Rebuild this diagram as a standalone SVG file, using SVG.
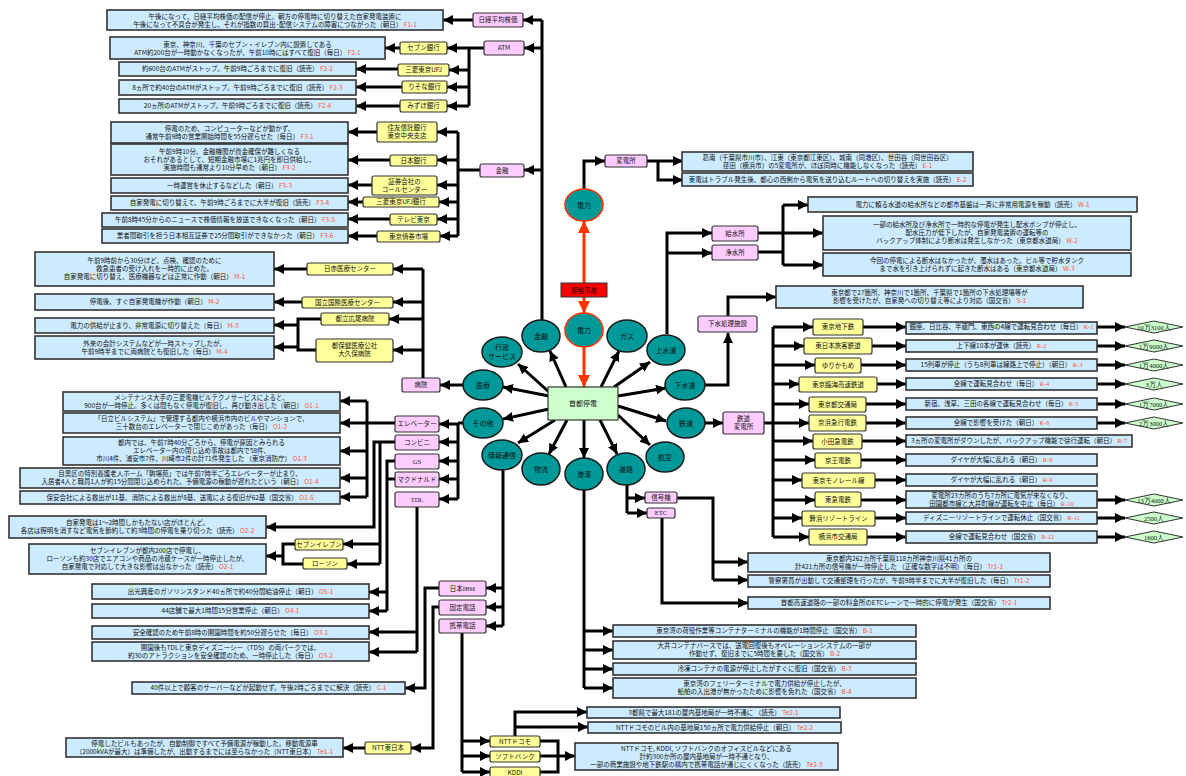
<svg xmlns="http://www.w3.org/2000/svg" width="1186" height="776" viewBox="0 0 1186 776">
<style>
.b{fill:#CCEBFF;stroke:#333;stroke-width:1.6}
.p{fill:#FFCCFF;stroke:#333;stroke-width:1.2}
.y{fill:#FFFF99;stroke:#333;stroke-width:1.2}
.e{fill:#009999;stroke:#1a1a1a;stroke-width:1.5}
.er{fill:#009999;stroke:#FF3300;stroke-width:1.6}
.d{fill:#CCFFCC;stroke:#333;stroke-width:1}
text{font-family:"Noto Sans CJK JP","Noto Sans",sans-serif;font-size:6.5px;fill:#111;text-anchor:middle}
.et{fill:#111;font-size:7px}
.r{fill:#FF5533}
.s{font-family:"Liberation Serif",serif}
.c{stroke:#000;stroke-width:3;fill:none;marker-end:url(#ah)}
.n{stroke:#000;stroke-width:3;fill:none}
.rc{stroke:#FF3300;stroke-width:3;fill:none;marker-end:url(#ahr)}
</style>
<defs>
<marker id="ah" markerUnits="userSpaceOnUse" markerWidth="11" markerHeight="11" refX="10" refY="5" orient="auto"><path d="M0,0L10,5L0,10z" fill="#000"/></marker>
<marker id="ahr" markerUnits="userSpaceOnUse" markerWidth="13" markerHeight="13" refX="12" refY="6" orient="auto"><path d="M0,0L12,6L0,12z" fill="#FF3300"/></marker>
</defs>
<rect width="1186" height="776" fill="#fff"/>
<g id="connectors">
<path class="n" d="M542,321V20"/>
<path class="c" d="M542,20H523"/><path class="c" d="M542,48H524"/><path class="c" d="M542,170H524"/>
<path class="c" d="M473,20H443"/>
<path class="c" d="M484,48H447"/><path class="n" d="M469,48V106"/>
<path class="c" d="M469,70H449"/><path class="c" d="M469,87H447"/><path class="c" d="M469,106H447"/>
<path class="c" d="M400,48H385"/><path class="c" d="M398,69H356"/><path class="c" d="M402,87H356"/><path class="c" d="M400,106H356"/>
<path class="n" d="M480,170H458"/><path class="n" d="M458,132V236"/>
<path class="c" d="M458,132H437"/><path class="c" d="M458,160H437"/><path class="c" d="M458,185H437"/><path class="c" d="M458,202H439"/><path class="c" d="M458,219H437"/><path class="c" d="M458,236H440"/>
<path class="c" d="M377,132H348"/><path class="c" d="M390,160H348"/><path class="c" d="M372,185H348"/><path class="c" d="M363,202H348"/><path class="c" d="M390,219H348"/><path class="c" d="M377,236H348"/>
<path class="c" d="M463,385H440"/><path class="n" d="M423,378V269"/>
<path class="c" d="M423,269H393"/><path class="c" d="M423,302H393"/><path class="c" d="M423,319H389"/><path class="c" d="M423,350H393"/>
<path class="c" d="M307,269H274"/><path class="c" d="M302,302H274"/>
<path class="n" d="M321,319H298V350H316"/><path class="c" d="M298,325H274"/><path class="c" d="M298,347H274"/>
<path class="n" d="M464,423H458"/><path class="n" d="M458,423V499"/>
<path class="c" d="M458,424H439"/><path class="c" d="M458,442H439"/><path class="c" d="M458,461H439"/><path class="c" d="M458,479H439"/><path class="c" d="M458,499H439"/>
<path class="c" d="M395,423H340"/><path class="n" d="M367,401V497"/>
<path class="c" d="M367,401H340"/><path class="c" d="M367,451H340"/><path class="c" d="M367,478H340"/><path class="c" d="M367,497H340"/>
<path class="c" d="M395,442H374V527H266"/><path class="n" d="M380,442V564"/><path class="c" d="M380,544H343"/><path class="c" d="M380,564H347"/>
<path class="n" d="M295,544H283V564H303"/><path class="c" d="M283,556H266"/>
<path class="n" d="M395,461H387V611"/><path class="n" d="M395,479H387"/><path class="c" d="M387,592H369"/><path class="c" d="M387,611H369"/>
<path class="n" d="M417,507V652"/><path class="c" d="M417,632H369"/><path class="c" d="M417,652H369"/>
<path class="n" d="M503,470V626"/><path class="c" d="M503,588H486"/><path class="c" d="M503,607H486"/><path class="c" d="M503,626H486"/>
<path class="c" d="M439,588H425V688H405"/><path class="c" d="M439,607H433V748H411"/><path class="c" d="M365,748H343"/>
<path class="n" d="M462,633V772"/><path class="c" d="M462,741H490"/><path class="c" d="M462,756H490"/><path class="c" d="M462,772H490"/>
<path class="c" d="M515,736V712H587"/><path class="c" d="M515,727H588"/>
<path class="n" d="M540,741H558V772H540"/><path class="n" d="M540,756H558"/><path class="c" d="M558,756H575"/>
<path class="n" d="M584,489V688"/><path class="c" d="M584,631H613"/><path class="c" d="M584,650H613"/><path class="c" d="M584,669H613"/><path class="c" d="M584,688H613"/>
<path class="n" d="M627,485V513"/><path class="c" d="M627,498H645"/><path class="c" d="M627,513H647"/>
<path class="n" d="M677,498H713V580"/><path class="c" d="M713,562H748"/><path class="c" d="M713,580H748"/>
<path class="c" d="M662,518V603H748"/>
<path class="c" d="M667,334V233H712"/><path class="c" d="M667,253H712"/>
<path class="c" d="M758,233H823"/><path class="n" d="M758,252H783"/><path class="n" d="M783,205V265"/><path class="c" d="M783,205H808"/><path class="c" d="M783,265H823"/>
<path class="c" d="M704,385H728V333"/><path class="c" d="M728,316V297H776"/>
<path class="c" d="M584,190V161H605"/><path class="c" d="M647,161H683"/><path class="c" d="M658,161V180H683"/>
<path class="c" d="M705,423H723"/><path class="n" d="M764,423H773"/><path class="n" d="M773,327V537"/>
<path class="c" d="M773,327H813"/><path class="c" d="M773,346H804"/><path class="c" d="M773,365H815"/><path class="c" d="M773,384H799"/><path class="c" d="M773,404H809"/><path class="c" d="M773,423H809"/><path class="c" d="M773,441H813"/><path class="c" d="M773,460H815"/><path class="c" d="M773,480H802"/><path class="c" d="M773,500H815"/><path class="c" d="M773,518H802"/><path class="c" d="M773,537H809"/>
<path class="c" d="M863,327H906"/><path class="c" d="M872,346H906"/><path class="c" d="M861,365H906"/><path class="c" d="M877,384H906"/><path class="c" d="M866,404H906"/><path class="c" d="M866,423H906"/><path class="c" d="M862,441H906"/><path class="c" d="M861,460H906"/><path class="c" d="M875,480H906"/><path class="c" d="M861,500H906"/><path class="c" d="M875,518H906"/><path class="c" d="M867,537H906"/>
<path class="c" d="M1097,327H1125"/><path class="c" d="M1097,346H1125"/><path class="c" d="M1097,365H1125"/><path class="c" d="M1097,384H1125"/><path class="c" d="M1097,404H1125"/><path class="c" d="M1097,423H1125"/><path class="c" d="M1097,500H1125"/><path class="c" d="M1097,518H1125"/><path class="c" d="M1097,537H1125"/>
<path class="c" d="M566,387L550,351"/><path class="c" d="M549,392L518,364"/><path class="c" d="M549,396L503,387"/><path class="c" d="M549,409L503,419"/><path class="c" d="M555,420L518,443"/><path class="c" d="M567,420L549,454"/><path class="c" d="M584,420V458"/><path class="c" d="M600,420L617,454"/><path class="c" d="M618,415L650,445"/><path class="c" d="M618,406L666,421"/><path class="c" d="M618,396L666,388"/><path class="c" d="M614,387L650,362"/><path class="c" d="M601,387L619,351"/>
<path class="rc" d="M584,347V387"/><path class="rc" d="M584,297V313"/><path class="rc" d="M584,283V221"/>
</g>
<g id="shuto"><rect x="548" y="387" width="70" height="33" fill="#CCFFCC" stroke="#333" stroke-width="1.2"/><text x="583" y="405.5" style="font-size:7px">首都停電</text></g>
<g id="jiko"><rect x="561" y="283" width="46" height="14" fill="#FF0000" stroke="#333" stroke-width="1"/><text x="584" y="292.5">接触事故</text></g>
<g id="n-denryoku-top"><ellipse class="er" cx="584" cy="205" rx="19" ry="16"/><text class="et" x="584" y="207.5">電力</text></g>
<g id="n-denryoku"><ellipse class="er" cx="584" cy="330" rx="19" ry="17"/><text class="et" x="584" y="332.5">電力</text></g>
<g id="n-kinyu"><ellipse class="e" cx="541" cy="336" rx="19" ry="16"/><text class="et" x="541" y="338.5">金融</text></g>
<g id="n-gyosei"><ellipse class="e" cx="502" cy="352" rx="20" ry="15"/><text class="et" x="502" y="350">行政</text><text class="et" x="502" y="358.5">サービス</text></g>
<g id="n-gas"><ellipse class="e" cx="627" cy="336" rx="20" ry="16"/><text class="et" x="627" y="338.5">ガス</text></g>
<g id="n-josui"><ellipse class="e" cx="666" cy="350" rx="19" ry="15"/><text class="et" x="666" y="352.5">上水道</text></g>
<g id="n-gesui"><ellipse class="e" cx="685" cy="385" rx="20" ry="15"/><text class="et" x="685" y="387.5">下水道</text></g>
<g id="n-tetsudo"><ellipse class="e" cx="686" cy="423" rx="19" ry="15"/><text class="et" x="686" y="425.5">鉄道</text></g>
<g id="n-koku"><ellipse class="e" cx="665" cy="457" rx="19" ry="15"/><text class="et" x="665" y="459.5">航空</text></g>
<g id="n-doro"><ellipse class="e" cx="626" cy="469" rx="19" ry="16"/><text class="et" x="626" y="471.5">道路</text></g>
<g id="n-kowan"><ellipse class="e" cx="584" cy="474" rx="19" ry="16"/><text class="et" x="584" y="476.5">港湾</text></g>
<g id="n-butsuryu"><ellipse class="e" cx="541" cy="469" rx="19" ry="16"/><text class="et" x="541" y="471.5">物流</text></g>
<g id="n-joho"><ellipse class="e" cx="502" cy="455" rx="20" ry="15"/><text class="et" x="502" y="457.5">情報通信</text></g>
<g id="n-sonota"><ellipse class="e" cx="483" cy="423" rx="20" ry="15"/><text class="et" x="483" y="425.5">その他</text></g>
<g id="n-iryo"><ellipse class="e" cx="483" cy="385" rx="20" ry="15"/><text class="et" x="483" y="387.5">医療</text></g>
<g id="labels">
<g id="l-nikkei"><rect class="p" x="473" y="13" width="50" height="14" rx="2"/><text x="498" y="22.3">日経平均株価</text></g>
<g id="l-atm"><rect class="p" x="484" y="41" width="40" height="14" rx="2"/><text x="504" y="50.3">ATM</text></g>
<g id="l-kinyu"><rect class="p" x="480" y="164" width="44" height="13" rx="2"/><text x="502" y="172.8">金融</text></g>
<g id="l-seven"><rect class="y" x="400" y="42" width="47" height="12" rx="2"/><text x="423.5" y="50.3">セブン銀行</text></g>
<g id="l-mufj"><rect class="y" x="398" y="64" width="51" height="12" rx="2"/><text x="423.5" y="72.3">三菱東京UFJ</text></g>
<g id="l-resona"><rect class="y" x="402" y="81" width="45" height="12" rx="2"/><text x="424.5" y="89.3">りそな銀行</text></g>
<g id="l-mizuho"><rect class="y" x="400" y="100" width="47" height="12" rx="2"/><text x="423.5" y="108.3">みずほ銀行</text></g>
<g id="l-sumitomo"><rect class="y" x="377" y="122" width="60" height="20" rx="2"/><text x="407" y="130.3">住友信託銀行</text><text x="407" y="138.3">東京中央支店</text></g>
<g id="l-boj"><rect class="y" x="390" y="155" width="47" height="11" rx="2"/><text x="413.5" y="162.8">日本銀行</text></g>
<g id="l-shoken"><rect class="y" x="372" y="176" width="65" height="19" rx="2"/><text x="404.5" y="183.8">証券会社の</text><text x="404.5" y="191.8">コールセンター</text></g>
<g id="l-mufjb"><rect class="y" x="363" y="197" width="76" height="10" rx="2"/><text x="401" y="204.3">三菱東京UFJ銀行</text></g>
<g id="l-tvtokyo"><rect class="y" x="390" y="214" width="47" height="11" rx="2"/><text x="413.5" y="221.8">テレビ東京</text></g>
<g id="l-saiken"><rect class="y" x="377" y="231" width="63" height="11" rx="2"/><text x="408.5" y="238.8">東京債券市場</text></g>
<g id="l-byoin"><rect class="p" x="402" y="378" width="38" height="14" rx="2"/><text x="421" y="387.3">病院</text></g>
<g id="l-nisseki"><rect class="y" x="307" y="263" width="86" height="12" rx="2"/><text x="350" y="271.3">日赤医療センター</text></g>
<g id="l-kokuritsu"><rect class="y" x="302" y="297" width="91" height="11" rx="2"/><text x="347.5" y="304.8">国立国際医療センター</text></g>
<g id="l-hiroo"><rect class="y" x="321" y="313" width="68" height="12" rx="2"/><text x="355" y="321.3">都立広尾病院</text></g>
<g id="l-okubo"><rect class="y" x="316" y="339" width="77" height="23" rx="2"/><text x="354.5" y="348.3">都保健医療公社</text><text x="354.5" y="356.3">大久保病院</text></g>
<g id="l-elev"><rect class="p" x="395" y="416" width="44" height="16" rx="2"/><text x="417" y="426.3">エレベーター</text></g>
<g id="l-konbini"><rect class="p" x="395" y="435" width="44" height="15" rx="2"/><text x="417" y="444.8">コンビニ</text></g>
<g id="l-gs"><rect class="p" x="395" y="454" width="44" height="15" rx="2"/><text class="s" x="417" y="463.8">GS</text></g>
<g id="l-mac"><rect class="p" x="395" y="472" width="44" height="15" rx="2"/><text x="417" y="481.8">マクドナルド</text></g>
<g id="l-tdl"><rect class="p" x="395" y="492" width="44" height="15" rx="2"/><text class="s" x="417" y="501.8">TDL</text></g>
<g id="l-7eleven"><rect class="y" x="295" y="539" width="48" height="11" rx="2"/><text x="319" y="546.8">セブンイレブン</text></g>
<g id="l-lawson"><rect class="y" x="303" y="558" width="44" height="11" rx="2"/><text x="325" y="565.8">ローソン</text></g>
<g id="l-ibm"><rect class="p" x="439" y="581" width="47" height="15" rx="2"/><text x="462.5" y="590.8">日本<tspan class="s">IBM</tspan></text></g>
<g id="l-kotei"><rect class="p" x="439" y="600" width="47" height="15" rx="2"/><text x="462.5" y="609.8">固定電話</text></g>
<g id="l-keitai"><rect class="p" x="439" y="619" width="47" height="14" rx="2"/><text x="462.5" y="628.3">携帯電話</text></g>
<g id="l-ntte"><rect class="y" x="365" y="742" width="46" height="12" rx="2"/><text x="388" y="750.3">NTT東日本</text></g>
<g id="l-docomo"><rect class="y" x="490" y="736" width="50" height="11" rx="2"/><text x="515" y="743.8">NTTドコモ</text></g>
<g id="l-softbank"><rect class="y" x="490" y="751" width="50" height="11" rx="2"/><text x="515" y="758.8">ソフトバンク</text></g>
<g id="l-kddi"><rect class="y" x="490" y="767" width="50" height="12" rx="2"/><text x="515" y="775">KDDI</text></g>
<g id="l-hendensho"><rect class="p" x="605" y="155" width="42" height="12" rx="2"/><text x="626" y="163.3">変電所</text></g>
<g id="l-kyusui"><rect class="p" x="712" y="226" width="46" height="15" rx="2"/><text x="735" y="235.8">給水所</text></g>
<g id="l-jyosui"><rect class="p" x="712" y="245" width="46" height="15" rx="2"/><text x="735" y="254.8">浄水所</text></g>
<g id="l-gesuishori"><rect class="p" x="698" y="316" width="59" height="16" rx="2"/><text x="727.5" y="326.3">下水処理施設</text></g>
<g id="l-tetsuhen"><rect class="p" x="723" y="412" width="41" height="22" rx="2"/><text x="743.5" y="421.3">鉄道</text><text x="743.5" y="429.3">変電所</text></g>
<g id="l-shingo"><rect class="p" x="645" y="492" width="32" height="11" rx="2"/><text x="661" y="499.8">信号機</text></g>
<g id="l-etc"><rect class="p" x="647" y="508" width="28" height="10" rx="2"/><text class="s" x="661" y="515.3">ETC</text></g>
<g id="l-r1"><rect class="y" x="813" y="319" width="50" height="16" rx="2"/><text x="838" y="329.3">東京地下鉄</text></g>
<g id="l-r2"><rect class="y" x="804" y="338" width="68" height="16" rx="2"/><text x="838" y="348.3">東日本旅客鉄道</text></g>
<g id="l-r3"><rect class="y" x="815" y="358" width="46" height="15" rx="2"/><text x="838" y="367.8">ゆりかもめ</text></g>
<g id="l-r4"><rect class="y" x="799" y="377" width="78" height="15" rx="2"/><text x="838" y="386.8">東京臨海高速鉄道</text></g>
<g id="l-r5"><rect class="y" x="809" y="397" width="57" height="15" rx="2"/><text x="837.5" y="406.8">東京都交通局</text></g>
<g id="l-r6"><rect class="y" x="809" y="415" width="57" height="16" rx="2"/><text x="837.5" y="425.3">京浜急行電鉄</text></g>
<g id="l-r7"><rect class="y" x="813" y="434" width="49" height="15" rx="2"/><text x="837.5" y="443.8">小田急電鉄</text></g>
<g id="l-r8"><rect class="y" x="815" y="453" width="46" height="15" rx="2"/><text x="838" y="462.8">京王電鉄</text></g>
<g id="l-r9"><rect class="y" x="802" y="473" width="73" height="15" rx="2"/><text x="838.5" y="482.8">東京モノレール線</text></g>
<g id="l-r10"><rect class="y" x="815" y="492" width="46" height="15" rx="2"/><text x="838" y="501.8">東急電鉄</text></g>
<g id="l-r11"><rect class="y" x="802" y="511" width="73" height="15" rx="2"/><text x="838.5" y="520.8">舞浜リゾートライン</text></g>
<g id="l-r12"><rect class="y" x="809" y="529" width="58" height="16" rx="2"/><text x="838" y="539.3">横浜市交通局</text></g>
</g>
<g id="boxes">
<g id="F1-1"><rect class="b" x="107" y="10" width="336" height="20"/><text x="275" y="18.5">午後になって、日経平均株価の配信が停止。朝方の停電時に切り替えた自家発電装置に</text><text x="275" y="26.5">午後になって不具合が発生し、それが指数の算出･配信システムの障害につながった（朝日） <tspan class="r">F1-1</tspan></text></g>
<g id="F2-1"><rect class="b" x="110" y="37" width="275" height="22"/><text x="247.5" y="46.5">東京、神奈川、千葉のセブン・イレブン内に設置してある</text><text x="247.5" y="54.5">ATM約200台が一時動かなくなったが、午前10時にはすべて復旧（毎日） <tspan class="r">F2-1</tspan></text></g>
<g id="F2-2"><rect class="b" x="119" y="62" width="237" height="14"/><text x="237.5" y="71.3">約600台のATMがストップ。午前9時ごろまでに復旧（読売） <tspan class="r">F2-2</tspan></text></g>
<g id="F2-3"><rect class="b" x="119" y="80" width="237" height="15"/><text x="237.5" y="89.8">8ヵ所で約40台のATMがストップ。午前9時ごろまでに復旧（読売） <tspan class="r">F2-3</tspan></text></g>
<g id="F2-4"><rect class="b" x="119" y="99" width="237" height="14"/><text x="237.5" y="108.3">20ヵ所のATMがストップ。午前9時ごろまでに復旧（読売） <tspan class="r">F2-4</tspan></text></g>
<g id="F3-1"><rect class="b" x="111" y="122" width="237" height="21"/><text x="229.5" y="130.8">停電のため、コンピューターなどが動かず、</text><text x="229.5" y="138.8">通常午前9時の営業開始時間を55分遅らせた（毎日） <tspan class="r">F3-1</tspan></text></g>
<g id="F3-2"><rect class="b" x="111" y="144" width="237" height="31"/><text x="229.5" y="153.8">午前9時10分、金融機関が資金確保が難しくなる</text><text x="229.5" y="161.8">おそれがあるとして、短期金融市場に1兆円を即日供給し、</text><text x="229.5" y="169.8">実施時間も通常より10分早めた（朝日） <tspan class="r">F3-2</tspan></text></g>
<g id="F3-3"><rect class="b" x="111" y="178" width="237" height="15"/><text x="229.5" y="187.8">一時運営を休止するなどした（朝日） <tspan class="r">F3-3</tspan></text></g>
<g id="F3-4"><rect class="b" x="111" y="196" width="237" height="14"/><text x="229.5" y="205.3">自家発電に切り替えて、午前9時ごろまでに大半が復旧（読売） <tspan class="r">F3-4</tspan></text></g>
<g id="F3-5"><rect class="b" x="102" y="213" width="246" height="14"/><text x="225" y="222.3">午前8時45分からのニュースで株価情報を放送できなくなった（朝日） <tspan class="r">F3-5</tspan></text></g>
<g id="F3-6"><rect class="b" x="102" y="229" width="246" height="14"/><text x="225" y="238.3">業者間取引を担う日本相互証券で25分間取引ができなかった（朝日） <tspan class="r">F3-6</tspan></text></g>
<g id="M-1"><rect class="b" x="35" y="252" width="239" height="34"/><text x="154.5" y="263.3">午前9時前から30分ほど、点検、確認のために</text><text x="154.5" y="271.3">救急患者の受け入れを一時的に止めた。</text><text x="154.5" y="279.3">自家発電に切り替え、医療機器などは正常に作動（朝日） <tspan class="r">M-1</tspan></text></g>
<g id="M-2"><rect class="b" x="35" y="294" width="239" height="16"/><text x="154.5" y="304.3">停電後、すぐ自家発電機が作動（朝日） <tspan class="r">M-2</tspan></text></g>
<g id="M-3"><rect class="b" x="35" y="318" width="239" height="15"/><text x="154.5" y="327.8">電力の供給が止まり、非常電源に切り替えた（毎日） <tspan class="r">M-3</tspan></text></g>
<g id="M-4"><rect class="b" x="35" y="336" width="239" height="23"/><text x="154.5" y="345.8">外来の会計システムなどが一時ストップしたが、</text><text x="154.5" y="353.8">午前9時半までに両病院とも復旧した（毎日） <tspan class="r">M-4</tspan></text></g>
<g id="O1-1"><rect class="b" x="63" y="392" width="277" height="19"/><text x="201.5" y="399.8">メンテナンス大手の三菱電機ビルテクノサービスによると、</text><text x="201.5" y="407.8">900台が一時停止。多くは間もなく停電が復旧し、再び動き出した（朝日） <tspan class="r">O1-1</tspan></text></g>
<g id="O1-2"><rect class="b" x="63" y="413" width="277" height="20"/><text x="201.5" y="421.3">「日立ビルシステム」で管理する都内や横浜市内のビルやマンションで、</text><text x="201.5" y="429.3">三十数台のエレベーターで閉じこめがあった（毎日） <tspan class="r">O1-2</tspan></text></g>
<g id="O1-3"><rect class="b" x="63" y="437" width="277" height="28"/><text x="201.5" y="445.3">都内では、午前7時40分ごろから、停電が原因とみられる</text><text x="201.5" y="453.3">エレベーター内の閉じ込め事故は都内で58件、</text><text x="201.5" y="461.3">市川4件、浦安市7件、川崎市2件の計71件発生した （東京消防庁） <tspan class="r">O1-3</tspan></text></g>
<g id="O1-4"><rect class="b" x="20" y="468" width="320" height="20"/><text x="180" y="476.3">目黒区の特別養護老人ホーム「駒場苑」では午前7時半ごろエレベーターが止まり、</text><text x="180" y="484.3">入居者4人と職員1人が約15分間閉じ込められた。予備電源の稼動が遅れたという（朝日） <tspan class="r">O1-4</tspan></text></g>
<g id="O1-5"><rect class="b" x="20" y="491" width="320" height="13"/><text x="180" y="499.8">保安会社による救出が11基、消防による救出が8基、送電による復旧が62基（国交省） <tspan class="r">O1-5</tspan></text></g>
<g id="O2-2"><rect class="b" x="9" y="516" width="257" height="22"/><text x="137.5" y="525.3">自家発電は1～2時間しかもたない店がほとんど。</text><text x="137.5" y="533.3">各店は照明を消すなど電気を節約して約3時間の停電を乗り切った（読売） <tspan class="r">O2-2</tspan></text></g>
<g id="O2-1"><rect class="b" x="29" y="544" width="237" height="30"/><text x="147.5" y="553.3">セブンイレブンが都内200店で停電し、</text><text x="147.5" y="561.3">ローソンも約30店でエアコンや商品の冷蔵ケースが一時停止したが、</text><text x="147.5" y="569.3">自家発電で対応して大きな影響は出なかった（読売） <tspan class="r">O2-1</tspan></text></g>
<g id="O5-1"><rect class="b" x="92" y="584" width="277" height="15"/><text x="230.5" y="593.8">出光興産のガソリンスタンド40ヵ所で約40分間給油停止（朝日） <tspan class="r">O5-1</tspan></text></g>
<g id="O4-1"><rect class="b" x="92" y="604" width="277" height="14"/><text x="230.5" y="613.3">44店舗で最大1時間15分営業停止（朝日） <tspan class="r">O4-1</tspan></text></g>
<g id="O3-1"><rect class="b" x="92" y="626" width="277" height="13"/><text x="230.5" y="634.8">安全確認のため午前8時の開園時間を約50分遅らせた（毎日） <tspan class="r">O3-1</tspan></text></g>
<g id="O3-2"><rect class="b" x="92" y="642" width="277" height="19"/><text x="230.5" y="649.8">開園後もTDLと東京ディズニーシー（TDS）の両パークでは、</text><text x="230.5" y="657.8">約30のアトラクションを安全確認のため、一時停止した（毎日） <tspan class="r">O3-2</tspan></text></g>
<g id="C-1"><rect class="b" x="132" y="682" width="273" height="12"/><text x="268.5" y="690.3">40件以上で顧客のサーバーなどが起動せず。午後2時ごろまでに解決（読売） <tspan class="r">C-1</tspan></text></g>
<g id="Te1-1"><rect class="b" x="66" y="738" width="277" height="19"/><text x="204.5" y="745.8">停電したビルもあったが、自動制御ですべて予備電源が稼動した。移動電源車</text><text x="204.5" y="753.8">（2000kVAが最大）は準備したが、出動するまでには至らなかった（NTT東日本） <tspan class="r">Te1-1</tspan></text></g>
<g id="E-1"><rect class="b" x="682" y="152" width="291" height="19"/><text x="827.5" y="159.8">葛南（千葉県市川市）、江東（東京都江東区）、城南（同港区）、世田谷（同世田谷区）</text><text x="827.5" y="167.8">荏田（横浜市）の5変電所が、ほぼ同時に機能しなくなった（読売） <tspan class="r">E-1</tspan></text></g>
<g id="E-2"><rect class="b" x="682" y="173" width="291" height="13"/><text x="827.5" y="181.8">東電はトラブル発生後、都心の西側から電気を送り込むルートへの切り替えを実施（読売） <tspan class="r">E-2</tspan></text></g>
<g id="W-1"><rect class="b" x="808" y="197" width="329" height="15"/><text x="972.5" y="206.8">電力に頼る水道の給水所などの都市基盤は一斉に非常用電源を稼動（読売） <tspan class="r">W-1</tspan></text></g>
<g id="W-2"><rect class="b" x="823" y="216" width="308" height="34"/><text x="977" y="227.3">一部の給水所及び浄水所で一時的な停電が発生し配水ポンプが停止し、</text><text x="977" y="235.3">配水圧力が低下したが、自家発電装置の運転等の</text><text x="977" y="243.3">バックアップ体制により断水は発生しなかった（東京都水道局） <tspan class="r">W-2</tspan></text></g>
<g id="W-3"><rect class="b" x="823" y="253" width="308" height="23"/><text x="977" y="262.8">今回の停電による断水はなかったが、濁水はあった。ビル等で貯水タンク</text><text x="977" y="270.8">まで水を引き上げられずに起きた断水はある（東京都水道局） <tspan class="r">W-3</tspan></text></g>
<g id="S-1"><rect class="b" x="776" y="286" width="307" height="22"/><text x="929.5" y="295.3">東京都で27箇所、神奈川で1箇所、千葉県で1箇所の下水処理場等が</text><text x="929.5" y="303.3">影響を受けたが、自家発への切り替え等により対応（国交省） <tspan class="r">S-1</tspan></text></g>
<g id="R-1"><rect class="b" x="906" y="322" width="191" height="12"/><text x="1001.5" y="329.3">銀座、日比谷、半蔵門、東西の4線で運転見合わせ（毎日） <tspan class="r s">R-1</tspan></text></g>
<g id="R-2"><rect class="b" x="906" y="340" width="191" height="12"/><text x="1001.5" y="348.3">上下線10本が運休（読売） <tspan class="r s">R-2</tspan></text></g>
<g id="R-3"><rect class="b" x="906" y="359" width="191" height="12"/><text x="1001.5" y="367.3">15列車が停止（うち8列車は線路上で停止）（朝日） <tspan class="r s">R-3</tspan></text></g>
<g id="R-4"><rect class="b" x="906" y="378" width="191" height="12"/><text x="1001.5" y="386.3">全線で運転見合わせ（毎日） <tspan class="r s">R-4</tspan></text></g>
<g id="R-5"><rect class="b" x="906" y="398" width="191" height="12"/><text x="1001.5" y="406.3">新宿、浅草、三田の各線で運転見合わせ（毎日） <tspan class="r s">R-5</tspan></text></g>
<g id="R-6"><rect class="b" x="906" y="417" width="191" height="12"/><text x="1001.5" y="425.3">全線で影響を受けた（朝日） <tspan class="r s">R-6</tspan></text></g>
<g id="R-7"><rect class="b" x="906" y="435" width="226" height="12"/><text x="1019" y="443.3">3ヵ所の変電所がダウンしたが、バックアップ機能で徐行運転（朝日） <tspan class="r s">R-7</tspan></text></g>
<g id="R-8"><rect class="b" x="906" y="454" width="191" height="12"/><text x="1001.5" y="462.3">ダイヤが大幅に乱れる（朝日） <tspan class="r s">R-8</tspan></text></g>
<g id="R-9"><rect class="b" x="906" y="474" width="191" height="12"/><text x="1001.5" y="482.3">ダイヤが大幅に乱れる（朝日） <tspan class="r s">R-9</tspan></text></g>
<g id="R-10"><rect class="b" x="906" y="491" width="191" height="17"/><text x="1001.5" y="497.8">変電所23カ所のうち7カ所に電気が来なくなり、</text><text x="1001.5" y="505.8">田園都市線と大井町線が運転を中止（毎日） <tspan class="r s">R-10</tspan></text></g>
<g id="R-11"><rect class="b" x="906" y="512" width="191" height="12"/><text x="1001.5" y="520.3">ディズニーリゾートラインで運転休止（国交省） <tspan class="r s">R-11</tspan></text></g>
<g id="R-12"><rect class="b" x="906" y="531" width="191" height="12"/><text x="1001.5" y="539.3">全線で運転見合わせ（国交省） <tspan class="r s">R-12</tspan></text></g>
<g id="Tr1-1"><rect class="b" x="748" y="553" width="302" height="19"/><text x="899" y="560.8">東京都内262カ所千葉県118カ所神奈川県41カ所の</text><text x="899" y="568.8">計421カ所の信号機が一時停止した （正確な数字は不明）（毎日） <tspan class="r">Tr1-1</tspan></text></g>
<g id="Tr1-2"><rect class="b" x="748" y="575" width="302" height="12"/><text x="899" y="583.3">警察署員が出動して交通整理を行ったが、午前9時半までに大半が復旧した（毎日） <tspan class="r">Tr1-2</tspan></text></g>
<g id="Tr2-1"><rect class="b" x="748" y="597" width="302" height="12"/><text x="899" y="605.3">首都高速道路の一部の料金所のETCレーンで一時的に停電が発生（国交省） <tspan class="r">Tr2-1</tspan></text></g>
<g id="B-1"><rect class="b" x="613" y="625" width="303" height="12"/><text x="764.5" y="633.3">東京湾の荷役作業等コンテナターミナルの機能が1時間停止（国交省） <tspan class="r">B-1</tspan></text></g>
<g id="B-2"><rect class="b" x="613" y="641" width="303" height="18"/><text x="764.5" y="648.3">大井コンテナバースでは、送電回復後もオペレーションシステムの一部が</text><text x="764.5" y="656.3">作動せず、復旧までに5時間を要した（国交省） <tspan class="r">B-2</tspan></text></g>
<g id="B-3"><rect class="b" x="613" y="663" width="303" height="12"/><text x="764.5" y="671.3">冷凍コンテナの電源が停止したがすぐに復旧（国交省） <tspan class="r">B-3</tspan></text></g>
<g id="B-4"><rect class="b" x="613" y="678" width="303" height="20"/><text x="764.5" y="686.3">東京湾のフェリーターミナルで電力供給が停止したが、</text><text x="764.5" y="694.3">船舶の入出港が無かったために影響を免れた（国交省） <tspan class="r">B-4</tspan></text></g>
<g id="Te2-1"><rect class="b" x="587" y="707" width="253" height="11"/><text x="713.5" y="714.8">3都県で最大181の屋内基地局が一時不通に （読売） <tspan class="r">Te2-1</tspan></text></g>
<g id="Te2-2"><rect class="b" x="588" y="722" width="253" height="11"/><text x="714.5" y="729.8">NTTドコモのビル内の基地局150ヵ所で電力供給停止（朝日） <tspan class="r">Te2-2</tspan></text></g>
<g id="Te2-3"><rect class="b" x="575" y="743" width="263" height="27"/><text x="706.5" y="750.8">NTTドコモ, KDDI, ソフトバンクのオフィスビルなどにある</text><text x="706.5" y="758.8">計約300か所の屋内基地局が一時不通となり、</text><text x="706.5" y="766.8">一部の商業施設や地下鉄駅の構内で携帯電話が通じにくくなった（読売） <tspan class="r">Te2-3</tspan></text></g>
</g>
<g id="diamonds">
<g id="d1"><polygon class="d" points="1125,327 1154,321 1183,327 1154,333"/><text class="s" x="1154" y="329.5">10万3100人</text></g>
<g id="d2"><polygon class="d" points="1125,346 1154,340 1183,346 1154,352"/><text class="s" x="1154" y="348.5">1万9000人</text></g>
<g id="d3"><polygon class="d" points="1125,365 1154,359 1183,365 1154,371"/><text class="s" x="1154" y="367.5">1万4000人</text></g>
<g id="d4"><polygon class="d" points="1125,384 1154,378 1183,384 1154,390"/><text class="s" x="1154" y="386.5">3万人</text></g>
<g id="d5"><polygon class="d" points="1125,404 1154,398 1183,404 1154,410"/><text class="s" x="1154" y="406.5">1万7000人</text></g>
<g id="d6"><polygon class="d" points="1125,423 1154,417 1183,423 1154,429"/><text class="s" x="1154" y="425.5">2万3000人</text></g>
<g id="d10"><polygon class="d" points="1125,500 1154,494 1183,500 1154,506"/><text class="s" x="1154" y="502.5">13万4000人</text></g>
<g id="d11"><polygon class="d" points="1125,518 1154,512 1183,518 1154,524"/><text class="s" x="1154" y="520.5">2500人</text></g>
<g id="d12"><polygon class="d" points="1125,537 1154,531 1183,537 1154,543"/><text class="s" x="1154" y="539.5">1600人</text></g>
</g>
</svg>
